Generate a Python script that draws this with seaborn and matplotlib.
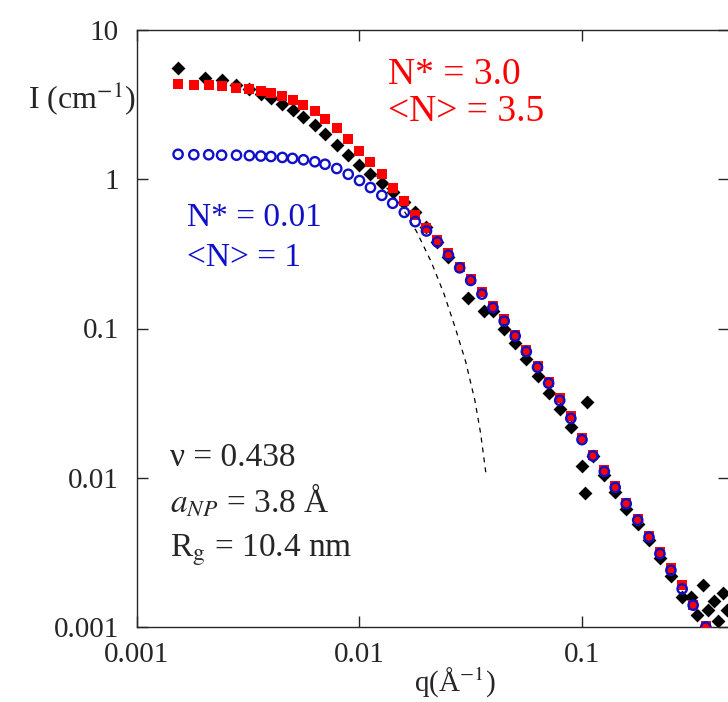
import matplotlib
matplotlib.use("Agg")
import matplotlib.pyplot as plt
import numpy as np
import pandas as pd
import seaborn as sns

# model grid (q in 1/Angstrom)
q_model = [0.00153, 0.0018, 0.0021, 0.0024, 0.0028, 0.0032, 0.0036, 0.004, 0.0045, 0.005,
           0.0056, 0.0063, 0.007, 0.0079, 0.0089, 0.01, 0.0112, 0.0126, 0.0141, 0.0159,
           0.0178, 0.02, 0.0224, 0.0251, 0.0282, 0.0316, 0.0355, 0.0398, 0.0447, 0.0501,
           0.0562, 0.0631, 0.0708, 0.0794, 0.0891, 0.1, 0.112, 0.126, 0.141, 0.158,
           0.178, 0.2, 0.224, 0.251, 0.282, 0.316, 0.36]
I_red = [4.35, 4.3, 4.25, 4.2, 4.1, 4.0, 3.9, 3.8, 3.6, 3.4,
         3.15, 2.85, 2.55, 2.2, 1.85, 1.55, 1.3, 1.08, 0.88, 0.72,
         0.58, 0.47, 0.39, 0.32, 0.26, 0.215, 0.175, 0.142, 0.115, 0.091,
         0.072, 0.056, 0.044, 0.034, 0.026, 0.0185, 0.0143, 0.0112, 0.0088, 0.0068,
         0.0053, 0.0041, 0.0032, 0.0025, 0.0019, 0.0014, 0.00102]
I_blue = [1.47, 1.46, 1.46, 1.45, 1.45, 1.44, 1.43, 1.42, 1.40, 1.38,
          1.35, 1.31, 1.26, 1.18, 1.08, 0.98, 0.88, 0.78, 0.69, 0.60,
          0.52, 0.45, 0.38, 0.31, 0.255, 0.21, 0.17, 0.138, 0.112, 0.089,
          0.07, 0.055, 0.043, 0.033, 0.025, 0.018, 0.014, 0.011, 0.0086, 0.0067,
          0.0052, 0.0040, 0.0031, 0.0024, 0.0018, 0.0014, 0.001]

# experimental data
q_exp = [0.00153, 0.00203, 0.0024, 0.0028, 0.0032, 0.0036, 0.004, 0.0045, 0.005, 0.0056,
         0.0063, 0.007, 0.0079, 0.0089, 0.01, 0.0112, 0.0126, 0.0141, 0.0159, 0.0178,
         0.02, 0.0224, 0.0251, 0.0306, 0.0364, 0.0398, 0.0447, 0.0501, 0.0562, 0.0631,
         0.0708, 0.0794, 0.0891, 0.1, 0.103, 0.105, 0.112, 0.126, 0.141, 0.158,
         0.178, 0.2, 0.224, 0.251, 0.282, 0.31, 0.33, 0.35, 0.37, 0.39, 0.41, 0.43, 0.45]
I_exp = [5.6, 4.8, 4.6, 4.3, 4.0, 3.7, 3.5, 3.2, 2.9, 2.6,
         2.3, 2.0, 1.7, 1.45, 1.25, 1.08, 0.95, 0.82, 0.70, 0.6,
         0.48, 0.38, 0.3, 0.16, 0.13, 0.13, 0.1, 0.08, 0.062, 0.048,
         0.037, 0.029, 0.022, 0.012, 0.0079, 0.032, 0.014, 0.0105, 0.008, 0.0062,
         0.0049, 0.0038, 0.0029, 0.0022, 0.0016, 0.0016, 0.0012, 0.0019, 0.0013, 0.0015,
         0.0011, 0.0017, 0.0013]

# Guinier approximation (dashed)
q_guin = [0.0115, 0.0135, 0.0155, 0.018, 0.021, 0.024, 0.027, 0.03, 0.033, 0.035, 0.037]
I_guin = [1.1, 0.85, 0.65, 0.45, 0.28, 0.17, 0.1, 0.06, 0.033, 0.02, 0.0107]

x_ticks = [0.001, 0.01, 0.1]
x_labels = ["0.001", "0.01", "0.1"]
y_ticks = [0.001, 0.01, 0.1, 1, 10]
y_labels = ["0.001", "0.01", "0.1", "1", "10"]

sns.set_style("ticks")
plt.rcParams["font.family"] = ["Liberation Serif", "DejaVu Serif"]
plt.rcParams["mathtext.fontset"] = "stix"

fig = plt.figure(figsize=(7.28, 7.02), dpi=100)
ax = fig.add_axes([137 / 728, 1 - 627 / 702, 1 - 137 / 728 + 0.002, (627 - 30) / 702])

exp_df = pd.DataFrame({"q": q_exp, "I": I_exp})
mod_df = pd.DataFrame({"q": q_model, "red": I_red, "blue": I_blue})
g_df = pd.DataFrame({"q": q_guin, "I": I_guin})

sns.scatterplot(data=exp_df, x="q", y="I", marker="D", color="black", s=50,
                edgecolor="black", linewidth=0, ax=ax, zorder=2)
sns.scatterplot(data=mod_df, x="q", y="red", marker="s", color="red", s=55,
                edgecolor="red", linewidth=0, ax=ax, zorder=3)
ax.scatter(mod_df["q"], mod_df["blue"], marker="o", s=45, facecolors="none",
           edgecolors="#1010c8", linewidths=1.7, zorder=4)
sns.lineplot(data=g_df, x="q", y="I", color="black", linestyle=(0, (4, 4)),
             linewidth=0.9, ax=ax, zorder=1)

ax.set_xscale("log")
ax.set_yscale("log")
ax.set_xlim(0.001, 0.46)
ax.set_ylim(0.001, 10)
ax.set_xticks(x_ticks, x_labels)
ax.set_yticks(y_ticks, y_labels)
ax.minorticks_off()
ax.tick_params(direction="in", length=8, width=1, labelsize=21, top=True, right=True)
ax.tick_params(axis="x", pad=11)
ax.tick_params(axis="y", pad=13)
for s in ax.spines.values():
    s.set_linewidth(1)
ax.set_xlabel("")
ax.set_ylabel("")

fig.text(455 / 728, 1 - 683 / 702, "q(Å$^{-1}$)", fontsize=21, ha="center", va="center")
fig.text(28 / 728, 1 - 98 / 702, "I (cm$^{-1}$)", fontsize=23, ha="left", va="center")

ax.text(388 / 728, 1 - 75 / 702, "N* = 3.0", color="red", fontsize=27,
        transform=fig.transFigure, va="center")
ax.text(388 / 728, 1 - 112 / 702, "<N> = 3.5", color="red", fontsize=27,
        transform=fig.transFigure, va="center")
ax.text(187 / 728, 1 - 218 / 702, "N* = 0.01", color="#1010c8", fontsize=24,
        transform=fig.transFigure, va="center")
ax.text(187 / 728, 1 - 258 / 702, "<N> = 1", color="#1010c8", fontsize=24,
        transform=fig.transFigure, va="center")
ax.text(170 / 728, 1 - 458 / 702, "ν = 0.438", fontsize=24,
        transform=fig.transFigure, va="center")
ax.text(170 / 728, 1 - 500 / 702, "$a_{NP}$ = 3.8 Å", fontsize=24,
        transform=fig.transFigure, va="center")
ax.text(170 / 728, 1 - 550 / 702, "R$_{\\mathrm{g}}$ = 10.4 nm", fontsize=24,
        transform=fig.transFigure, va="center")

fig.savefig("out.png", dpi=100)
